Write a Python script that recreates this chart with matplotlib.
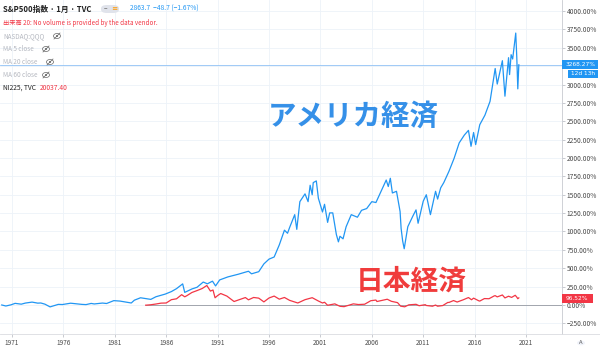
import matplotlib
matplotlib.use("Agg")
import matplotlib.pyplot as plt
from matplotlib.patches import Ellipse, FancyBboxPatch, Circle

plt.rcParams['font.family'] = ['Noto Sans CJK JP', 'DejaVu Sans']

# S&P500 (月足終値, 1970年初を0%とした変化率)
spx_year = [1970.0, 1970.4, 1970.9, 1971.3, 1971.9, 1972.3, 1972.95, 1973.5, 1973.8, 1974.2,
            1974.7, 1975.5, 1975.9, 1976.7, 1977.8, 1978.2, 1978.7, 1979.0, 1979.8, 1980.2,
            1980.9, 1981.5, 1982.6, 1982.9, 1983.5, 1984.5, 1985.0, 1985.9, 1986.5, 1987.0,
            1987.6, 1987.8, 1988.5, 1989.0, 1989.6, 1990.0, 1990.5, 1990.8, 1991.2, 1992.0,
            1993.0, 1994.0, 1994.3, 1995.0, 1995.5, 1996.0, 1996.5, 1997.0, 1997.5, 1997.8,
            1998.0, 1998.5, 1998.7, 1999.0, 1999.5, 1999.8, 2000.0, 2000.2, 2000.3, 2000.6,
            2000.8, 2001.2, 2001.4, 2001.7, 2001.9, 2002.2, 2002.55, 2002.75, 2002.9, 2003.2,
            2003.5, 2004.0, 2004.6, 2005.0, 2005.5, 2006.0, 2006.4, 2006.9, 2007.4, 2007.6,
            2007.8, 2008.0, 2008.4, 2008.75, 2008.85, 2009.0, 2009.15, 2009.5, 2010.0, 2010.3,
            2010.5, 2011.0, 2011.3, 2011.7, 2012.2, 2012.4, 2012.7, 2013.0, 2013.5, 2014.0,
            2014.5, 2015.0, 2015.4, 2015.65, 2015.9, 2016.1, 2016.5, 2017.0, 2017.5, 2018.0,
            2018.2, 2018.7, 2018.95, 2019.3, 2019.4, 2019.55, 2019.7, 2020.0, 2020.1, 2020.2,
            2020.3]
spx_pct = [0, -14, 2, 22, 11, 26, 39, 25, 27, 11,
           -26, 8, 6, 24, 8, 5, 21, 14, 26, 20,
           59, 53, 27, 65, 98, 76, 112, 148, 182, 222,
           287, 171, 218, 241, 312, 288, 324, 259, 341, 382,
           418, 459, 424, 453, 559, 624, 653, 818, 1018, 976,
           1053, 1229, 1029, 1406, 1512, 1406, 1629, 1500, 1665, 1688,
           1453, 1265, 1370, 1124, 1253, 1253, 959, 859, 935, 900,
           1065, 1229, 1194, 1288, 1312, 1406, 1394, 1547, 1700, 1612,
           1724, 1524, 1547, 1271, 1041, 871, 765, 1065, 1212, 1294,
           1112, 1412, 1500, 1229, 1547, 1441, 1594, 1665, 1818, 1994,
           2206, 2312, 2376, 2159, 2347, 2182, 2453, 2582, 2771, 3218,
           3006, 3324, 2841, 3365, 3135, 3406, 3347, 3700, 3375, 2941,
           3268.27]

# 日経225 (NI225, 変化率)
nk_year = [1984.0, 1984.5, 1985.0, 1985.5, 1986.0, 1986.5, 1987.0, 1987.5, 1987.8, 1988.0,
           1988.5, 1989.0, 1989.5, 1989.95, 1990.3, 1990.55, 1990.75, 1991.0, 1991.3, 1991.9,
           1992.6, 1993.0, 1993.7, 1994.0, 1994.5, 1995.0, 1995.5, 1996.0, 1996.5, 1997.0,
           1997.5, 1998.0, 1998.8, 1999.5, 2000.2, 2000.8, 2001.2, 2001.4, 2001.7, 2002.4,
           2002.9, 2003.3, 2004.2, 2004.7, 2005.3, 2005.9, 2006.4, 2006.5, 2007.5, 2007.9,
           2008.5, 2008.8, 2009.2, 2009.6, 2010.3, 2010.6, 2011.2, 2011.3, 2011.9, 2012.2,
           2012.4, 2012.9, 2013.4, 2013.5, 2013.95, 2014.3, 2014.9, 2015.4, 2015.7, 2015.9,
           2016.4, 2016.5, 2016.95, 2017.4, 2017.9, 2018.0, 2018.2, 2018.7, 2018.95, 2019.3,
           2019.6, 2019.95, 2020.1, 2020.2, 2020.3]
nk_pct = [-3, 3, 13, 25, 27, 72, 84, 140, 111, 126,
          170, 196, 224, 265, 189, 204, 98, 128, 156, 121,
          47, 67, 101, 70, 102, 93, 42, 95, 121, 79,
          102, 63, 27, 72, 99, 54, 27, 37, -4, 15,
          -18, -23, 15, 6, 10, 58, 67, 47, 78, 50,
          32, -16, -25, 2, 9, -10, 4, -7, -17, -1,
          -17, -8, 35, 34, 60, 40, 71, 101, 71, 93,
          57, 53, 87, 85, 123, 127, 110, 136, 96, 119,
          103, 132, 107, 85, 96.52]

x_ticks = [1971, 1976, 1981, 1986, 1991, 1996, 2001, 2006, 2011, 2016, 2021]
y_ticks = list(range(-250, 4001, 250))
hidden_tick = 3250   # 価格ラベルの下に隠れる目盛

W, H = 600, 351
def fx(x):
    return x / W
def fy(y):
    return 1 - y / H

blue = '#2196f3'
red = '#f23645'
grid = '#edf2f9'

fig = plt.figure(figsize=(6, 3.51), dpi=100)
fig.patch.set_facecolor('white')
ax = fig.add_axes([0, fy(334), fx(562), 334 / H])
ax.set_xlim(1969.83, 2024.5)
ax.set_ylim(-395, 4150)

ax.plot(spx_year, spx_pct, color=blue, lw=0.9, zorder=3)
ax.plot(nk_year, nk_pct, color=red, lw=0.9, zorder=3)
ax.plot([nk_year[0], 2024.5], [0, 0], color='#9598a1', lw=0.6, zorder=2)
ax.axhline(3268.27, color='#90c2f5', lw=0.6, zorder=2)

ax.set_xticks(x_ticks)
ax.set_xticklabels([str(t) for t in x_ticks], fontsize=4.6, color='#4a4a4a')
ax.yaxis.tick_right()
ax.set_yticks(y_ticks)
ax.set_yticklabels(['' if t == hidden_tick else f"{t:.2f}%".replace('-', '\u2212')
                    for t in y_ticks], fontsize=4.8, color='#4a4a4a')
ax.tick_params(axis='both', length=2, width=0.5, color='#b2b5be', pad=1.5)
ax.grid(True, color=grid, lw=0.6)
for s in ['top', 'left']:
    ax.spines[s].set_visible(False)
ax.spines['right'].set_color('#c8cad0')
ax.spines['bottom'].set_color('#dadce0')
ax.spines['right'].set_linewidth(0.6)
ax.spines['bottom'].set_linewidth(0.6)

# 大きな注釈
ax.text(fx(353), fy(117), 'アメリカ経済', transform=fig.transFigure, fontsize=20.5,
        fontweight='bold', color='#3590e8', ha='center', va='center')
ax.text(fx(411), fy(282), '日本経済', transform=fig.transFigure, fontsize=20,
        fontweight='bold', color='#f03c3c', ha='center', va='center')

# 凡例ヘッダ
fig.text(fx(3), fy(9), 'S&P500指数 · 1月 · TVC', fontsize=5.6, color='#222222',
         va='center', fontweight='bold')
fig.add_artist(FancyBboxPatch((fx(101), fy(13)), fx(18), 8 / H,
               boxstyle='round,pad=0,rounding_size=0.01', fc='#e0e3eb', ec='none'))
fig.text(fx(104), fy(9), '−', fontsize=4.5, color='#777777', va='center')
fig.text(fx(111), fy(9), '≡', fontsize=4.5, color='#ff9800', va='center')
fig.text(fx(130), fy(9), '2863.7  −48.7 (−1.67%)', fontsize=4.8, color=blue, va='center')
fig.text(fx(3), fy(23), '出来高 20: No volume is provided by the data vendor.',
         fontsize=4.5, color=red, va='center')

faded = [('NASDAQ:QQQ', 36, 57), ('MA 5 close', 49, 46), ('MA 20 close', 62, 50),
         ('MA 60 close', 75, 46)]
for label, y, ex in faded:
    fig.text(fx(3), fy(y), label, fontsize=4.6, color='#b5b8c0', va='center')
    fig.add_artist(Ellipse((fx(ex), fy(y)), 7 / W, 5 / H, fc='none', ec='#666666', lw=0.5))
    fig.add_artist(Ellipse((fx(ex), fy(y)), 2 / W, 2 / H, fc='#666666', ec='none'))
    fig.add_artist(plt.Line2D([fx(ex - 3), fx(ex + 3)], [fy(y + 3), fy(y - 3)],
                              color='#666666', lw=0.5))

fig.text(fx(3), fy(88), 'NI225, TVC', fontsize=4.8, color='#222222', va='center')
fig.text(fx(40), fy(88), '20037.40', fontsize=4.8, color=red, va='center')

# 右側の価格ラベル
small = dict(fontsize=4.2, color='white', ha='center', va='center', family='DejaVu Sans')
fig.add_artist(FancyBboxPatch((fx(562), fy(68.5)), fx(36), 8.5 / H,
               boxstyle='square,pad=0', fc=blue, ec='none'))
fig.text(fx(580), fy(64.2), '3268.27%', **small)
fig.add_artist(FancyBboxPatch((fx(568), fy(78)), fx(30), 8.5 / H,
               boxstyle='square,pad=0', fc=blue, ec='none'))
fig.text(fx(583), fy(73.7), '12d 13h', **small)
fig.add_artist(FancyBboxPatch((fx(562), fy(303)), fx(31), 9 / H,
               boxstyle='square,pad=0', fc=red, ec='none'))
fig.text(fx(577), fy(298.5), '96.52%', **small)

fig.add_artist(plt.Line2D([fx(562), fx(600)], [fy(334), fy(334)], color='#dadce0', lw=0.6))
fig.add_artist(Circle((fx(581), fy(343)), 4 / W, fc='#f0f3fa', ec='none',
                      transform=fig.transFigure))
fig.text(fx(581), fy(343), 'A', fontsize=4.2, color='#555555', ha='center', va='center')

fig.savefig('out.png', dpi=100)
